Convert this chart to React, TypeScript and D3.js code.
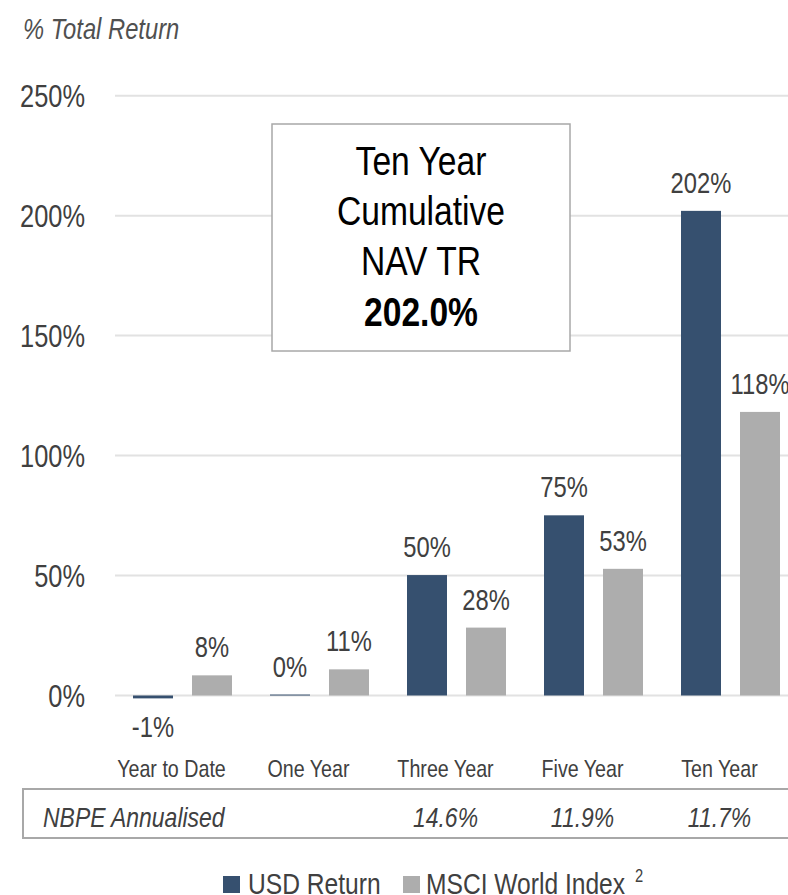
import React from "react";
import * as d3 from "d3";

const categories = ["Year to Date", "One Year", "Three Year", "Five Year", "Ten Year"];
const usdReturn = [-1.2, 0.4, 50.2, 75.1, 202.0];
const msciReturn = [8.4, 10.9, 28.3, 52.8, 118.2];
const usdLabels = ["-1%", "0%", "50%", "75%", "202%"];
const msciLabels = ["8%", "11%", "28%", "53%", "118%"];
const annualised = ["", "", "14.6%", "11.9%", "11.7%"];
const yTicks = [0, 50, 100, 150, 200, 250];
const seriesKeys = ["usd", "msci"];
const seriesNames = ["USD Return", "MSCI World Index"];
const boxLines = ["Ten Year", "Cumulative", "NAV TR"];
const boxValue = "202.0%";

const W = 788;
const H = 895;
const DARK = "#36506F";
const GRAY = "#ADADAD";
const TXT = "#404040";
const FONT = "'Liberation Sans', Arial, sans-serif";
const SX = 0.82;

type TP = {
  x: number;
  y: number;
  size: number;
  anchor?: "start" | "middle" | "end";
  italic?: boolean;
  bold?: boolean;
  fill?: string;
  children: React.ReactNode;
};

function NText({ x, y, size, anchor = "start", italic, bold, fill = TXT, children }: TP) {
  return (
    <text
      transform={`translate(${x},${y}) scale(${SX},1)`}
      fontFamily={FONT}
      fontSize={size}
      textAnchor={anchor}
      fontStyle={italic ? "italic" : "normal"}
      fontWeight={bold ? "bold" : "normal"}
      fill={fill}
    >
      {children}
    </text>
  );
}

export default function App() {
  const y = d3.scaleLinear().domain([0, 250]).range([695.5, 95.7]);
  const x0 = d3
    .scaleBand<string>()
    .domain(categories)
    .range([114, 799])
    .paddingInner(38 / 137)
    .paddingOuter(19 / 137);
  const x1 = d3
    .scaleBand<string>()
    .domain(seriesKeys)
    .range([0, x0.bandwidth()])
    .paddingInner(19 / 59)
    .paddingOuter(0);
  const colors = [DARK, GRAY];
  const series = [usdReturn, msciReturn];
  const labels = [usdLabels, msciLabels];
  const labelShift = -11;

  return (
    <svg
      width={W}
      height={H}
      style={{ position: "absolute", left: 0, top: 0, background: "#fff" }}
    >
      <rect x={0} y={0} width={W} height={H} fill="#fff" />
      <NText x={23} y={39} size={29} italic fill="#505050">
        % Total Return
      </NText>

      {yTicks.map((t) => (
        <g key={t}>
          <line x1={115} x2={W} y1={y(t)} y2={y(t)} stroke="#E2E2E2" strokeWidth={2} />
          <NText x={85} y={y(t) + 11.5} size={31} anchor="end">
            {`${t}%`}
          </NText>
        </g>
      ))}

      {categories.map((c, i) => (
        <g key={c}>
          {seriesKeys.map((k, j) => {
            const v = series[j][i];
            const bx = (x0(c) ?? 0) + (x1(k) ?? 0);
            const top = y(Math.max(0, v));
            const bot = y(Math.min(0, v));
            const cx = bx + x1.bandwidth() / 2;
            return (
              <g key={k}>
                <rect x={bx} y={top} width={x1.bandwidth()} height={Math.max(1, bot - top)} fill={colors[j]} />
                <NText x={cx} y={v < 0 ? y(0) + 41 : top - 18} size={29} anchor="middle">
                  {labels[j][i]}
                </NText>
              </g>
            );
          })}
          <NText x={(x0(c) ?? 0) + x0.bandwidth() / 2 + labelShift} y={777} size={24} anchor="middle">
            {c}
          </NText>
          {annualised[i] && (
            <NText x={(x0(c) ?? 0) + x0.bandwidth() / 2 + labelShift} y={827} size={28} anchor="middle" italic>
              {annualised[i]}
            </NText>
          )}
        </g>
      ))}

      <rect x={23} y={789} width={W} height={49} fill="none" stroke="#A8A8A8" strokeWidth={2} />
      <NText x={43} y={827} size={28} italic>
        NBPE Annualised
      </NText>

      <rect x={272} y={124} width={298} height={227} fill="#fff" stroke="#A8A8A8" strokeWidth={1.5} />
      {boxLines.map((l, i) => (
        <NText key={l} x={421} y={175 + i * 50} size={41} anchor="middle" fill="#000">
          {l}
        </NText>
      ))}
      <NText x={421} y={326} size={41} anchor="middle" bold fill="#000">
        {boxValue}
      </NText>

      <rect x={223} y={876} width={17} height={17} fill={DARK} />
      <NText x={248} y={894} size={30}>
        {seriesNames[0]}
      </NText>
      <rect x={403} y={876} width={17} height={17} fill={GRAY} />
      <NText x={426} y={894} size={30}>
        {seriesNames[1]}
      </NText>
      <NText x={635} y={882} size={18}>
        2
      </NText>
    </svg>
  );
}
